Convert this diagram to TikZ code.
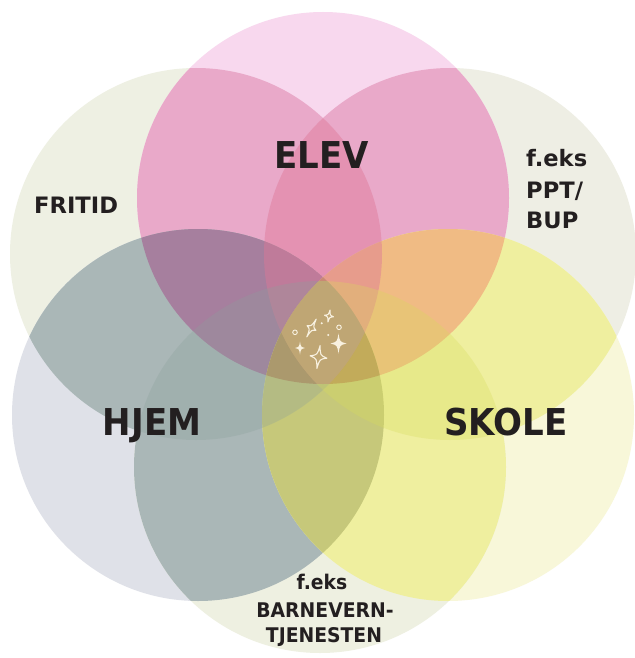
\documentclass[tikz,border=0pt]{standalone}
\usepackage{fontspec}
\setmainfont{DejaVu Sans}
\newfontfamily\bigfont{DejaVu Sans}[FakeStretch=0.92]
\newfontfamily\botfont{DejaVu Sans}[FakeStretch=0.93]
\definecolor{lA}{HTML}{F8D8EE}
\definecolor{lB}{HTML}{EEF0E3}
\definecolor{lC}{HTML}{EEEEE4}
\definecolor{lD}{HTML}{DFE1E8}
\definecolor{lE}{HTML}{F8F7D9}
\definecolor{lF}{HTML}{EEF0E1}
\definecolor{pinkM}{HTML}{E9A9C9}
\definecolor{pinkS}{HTML}{DE7896}
\definecolor{grayM}{HTML}{AAB7B7}
\definecolor{grayS}{HTML}{8CA09B}
\definecolor{yelM}{HTML}{EFEF9F}
\definecolor{yelS}{HTML}{D7DC5A}
\definecolor{purM}{HTML}{A67F9E}
\definecolor{oraM}{HTML}{F0BB84}
\definecolor{oliM}{HTML}{C6C87A}
\definecolor{broM}{HTML}{B9965A}
\definecolor{spk}{HTML}{F8F1E0}
\definecolor{ink}{HTML}{231F20}
\def\cA{(323,198) circle (186)}
\def\cB{(196,254) circle (186)}
\def\cC{(450,254) circle (186)}
\def\cD{(198,415) circle (186)}
\def\cE{(448,415) circle (186)}
\def\cF{(320,467) circle (186)}
\newcommand\spkstar[6]{%
  \path[#6, shift={(#1,#2)}, rotate=#5, xscale=#3, yscale=#4]
    (0,1) .. controls (0.17,0.17) .. (1,0) .. controls (0.17,-0.17) .. (0,-1)
    .. controls (-0.17,-0.17) .. (-1,0) .. controls (-0.17,0.17) .. (0,1) -- cycle;}
\begin{document}
\begin{tikzpicture}[x=1pt,y=-1pt,
  bigl/.style={font=\bigfont\bfseries\fontsize{37}{37}\selectfont, text=ink, inner sep=0pt},
  smalll/.style={font=\bfseries\fontsize{22.6}{25}\selectfont, text=ink, inner sep=0pt},
  botl/.style={font=\botfont\bfseries\fontsize{20.2}{25}\selectfont, text=ink, inner sep=0pt},
  spkline/.style={draw=spk, line width=1.1pt, line join=round},
  spkfill/.style={fill=spk}]
\useasboundingbox (0,0) rectangle (634,658);
\fill[white] (0,0) rectangle (634,658);
% light circles
\fill[lB] \cB; \fill[lC] \cC; \fill[lD] \cD; \fill[lE] \cE; \fill[lF] \cF; \fill[lA] \cA;
% main shapes
\begin{scope}\clip \cA; \fill[pinkM] \cB \cC; \end{scope}
\begin{scope}\clip \cD; \fill[grayM] \cB \cF; \end{scope}
\begin{scope}\clip \cE; \fill[yelM] \cC \cF; \end{scope}
% ELEV & HJEM
\begin{scope}\clip \cA; \clip \cD; \clip \cB \cC; \clip \cB \cF; \fill[purM] \cD; \end{scope}
% ELEV & SKOLE
\begin{scope}\clip \cA; \clip \cE; \clip \cB \cC; \clip \cC \cF; \fill[oraM] \cE; \end{scope}
% HJEM & SKOLE
\begin{scope}\clip \cD; \clip \cE; \clip \cB \cF; \clip \cC \cF; \fill[oliM] \cE; \end{scope}
% all three
\begin{scope}\clip \cA; \clip \cD; \clip \cE; \clip \cB \cC; \clip \cB \cF; \clip \cC \cF; \fill[broM] \cE; \end{scope}
% doubled lenses
\begin{scope}\clip \cA; \clip \cB; \fill[pinkS, fill opacity=0.45] \cC; \end{scope}
\begin{scope}\clip \cB; \clip \cD; \fill[grayS, fill opacity=0.3] \cF; \end{scope}
\begin{scope}\clip \cC; \clip \cE; \fill[yelS, fill opacity=0.3] \cF; \end{scope}
% sparkles
\spkstar{311.5}{328}{5}{10}{-28}{spkline}
\spkstar{329}{316}{4.5}{6}{-10}{spkline}
\spkstar{318.5}{357}{8.5}{11.5}{-8}{spkline}
\spkstar{300}{348}{5}{6.5}{0}{spkfill}
\spkstar{338.5}{343.5}{8}{10}{0}{spkfill}
\fill[spk] (321.7,323.3) circle (1.1);
\fill[spk] (328.3,335) circle (1.1);
\draw[spk, line width=0.9pt] (295,332.3) circle (2.3);
\draw[spk, line width=0.9pt] (339,327.3) circle (2.3);
% labels
\node[bigl, anchor=base] (elev) at (322,168) {ELEV};
\node[bigl, anchor=base] (hjem) at (152,435) {HJEM};
\node[bigl, anchor=base] (skole) at (506,435) {SKOLE};
\node[smalll, anchor=base west] (fritid) at (34,213) {FRITID};
\node[smalll, anchor=base west] (ppta) at (526,166) {f.eks};
\node[smalll, anchor=base west] (pptb) at (526,198) {PPT/};
\node[smalll, anchor=base west] (pptc) at (526,228) {BUP};
\node[botl, anchor=base] (barna) at (322,589) {f.eks};
\node[botl, anchor=base] (barnb) at (325,617) {BARNEVERN-};
\node[botl, anchor=base] (barnc) at (324,642) {TJENESTEN};
\end{tikzpicture}
\end{document}
